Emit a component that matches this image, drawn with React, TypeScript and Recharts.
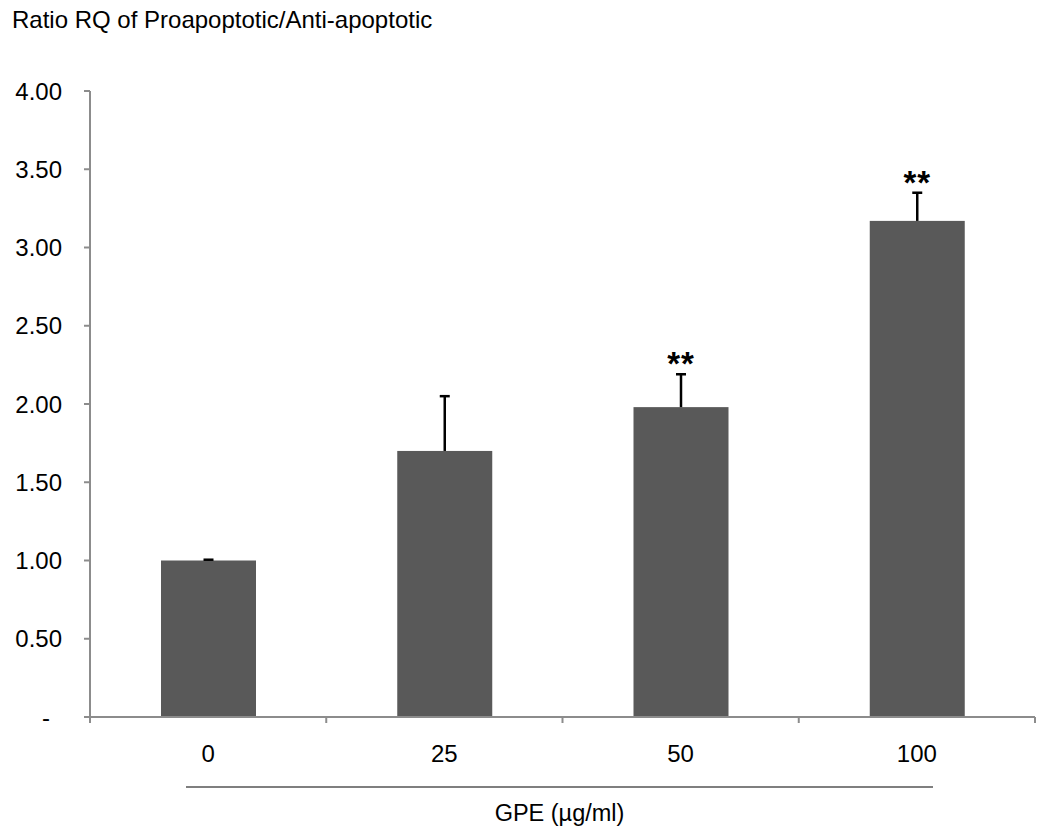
import { Bar, BarChart, XAxis, YAxis } from 'recharts'

const categories = ['0', '25', '50', '100']
const ratioValues = [1.0, 1.7, 1.98, 3.17]
const sdValues = [0.005, 0.35, 0.21, 0.18]
const significance = ['', '', '**', '**']
const yTicks = [0, 0.5, 1, 1.5, 2, 2.5, 3, 3.5, 4]

const W = 1037
const H = 829
const PLOT_LEFT = 90
const PLOT_RIGHT = 1035
const PLOT_TOP = 91
const AXIS_Y = 717
const FONT = '"Liberation Sans", Arial, sans-serif'
const AXIS_GREY = '#8c8c8c'

const data = categories.map((c, i) => ({
  dose: c,
  ratio: ratioValues[i],
  sd: sdValues[i],
  sig: significance[i],
}))

const band = (PLOT_RIGHT - PLOT_LEFT) / categories.length

// bar + upward error whisker + significance stars, sized off the bar's own scale
function BarWithError(props: any) {
  const { x, y, width, height, payload, fill } = props
  const pxPerUnit = height / payload.ratio
  const top = y - payload.sd * pxPerUnit
  const cx = x + width / 2
  return (
    <g>
      <rect x={x} y={y} width={width} height={height} fill={fill} />
      <line x1={cx} x2={cx} y1={y} y2={top} stroke="#000" strokeWidth={2.5} />
      <line x1={cx - 5} x2={cx + 5} y1={top} y2={top} stroke="#000" strokeWidth={2.5} />
      {payload.sig ? (
        <text x={cx} y={top + 1} textAnchor="middle" fontSize={33} fontWeight="bold" letterSpacing={1} fontFamily={FONT} fill="#000">
          {payload.sig}
        </text>
      ) : null}
    </g>
  )
}

function YTick({ y, payload }: any) {
  const v = payload.value as number
  if (v === 0) {
    return (
      <text x={46} y={y} textAnchor="middle" dominantBaseline="central" fontSize={24} fontFamily={FONT} fill="#000">
        -
      </text>
    )
  }
  return (
    <text x={62} y={y} textAnchor="end" dominantBaseline="central" fontSize={24} fontFamily={FONT} fill="#000">
      {v.toFixed(2)}
    </text>
  )
}

// category labels with tick marks on the category boundaries
function XTick({ x, payload, index }: any) {
  const left = x - band / 2
  const last = index === categories.length - 1
  return (
    <g>
      <line x1={left} x2={left} y1={AXIS_Y} y2={AXIS_Y + 6} stroke={AXIS_GREY} strokeWidth={2} />
      {last ? <line x1={x + band / 2} x2={x + band / 2} y1={AXIS_Y} y2={AXIS_Y + 6} stroke={AXIS_GREY} strokeWidth={2} /> : null}
      <text x={x} y={AXIS_Y + 36} textAnchor="middle" dominantBaseline="central" fontSize={24} fontFamily={FONT} fill="#000">
        {payload.value}
      </text>
    </g>
  )
}

function DoseTitle({ viewBox }: any) {
  const x0 = viewBox.x + 96
  const x1 = viewBox.x + 843
  return (
    <g>
      <line x1={x0} x2={x1} y1={AXIS_Y + 70} y2={AXIS_Y + 70} stroke="#555" strokeWidth={1.5} />
      <text x={(x0 + x1) / 2} y={AXIS_Y + 96} textAnchor="middle" dominantBaseline="central" fontSize={23.5} fontFamily={FONT} fill="#000">
        GPE (µg/ml)
      </text>
    </g>
  )
}

export default function App() {
  return (
    <div style={{ position: 'absolute', left: 0, top: 0, width: W, height: H, background: '#fff' }}>
      <div
        style={{
          position: 'absolute',
          left: 12,
          top: 8,
          fontFamily: FONT,
          fontSize: 24,
          lineHeight: '23px',
          color: '#000',
          whiteSpace: 'nowrap',
        }}
      >
        Ratio RQ of Proapoptotic/Anti-apoptotic
      </div>
      <BarChart
        width={W}
        height={H}
        data={data}
        margin={{ top: PLOT_TOP, right: W - PLOT_RIGHT, bottom: 0, left: 0 }}
      >
        <XAxis
          dataKey="dose"
          height={H - AXIS_Y}
          axisLine={{ stroke: AXIS_GREY, strokeWidth: 2 }}
          tickLine={false}
          tick={<XTick />}
          interval={0}
          label={{ content: <DoseTitle /> }}
        />
        <YAxis
          width={PLOT_LEFT}
          domain={[0, 4]}
          ticks={yTicks}
          interval={0}
          axisLine={{ stroke: AXIS_GREY, strokeWidth: 2 }}
          tickLine={{ stroke: AXIS_GREY, strokeWidth: 2 }}
          tickSize={6}
          tick={<YTick />}
        />
        <Bar dataKey="ratio" fill="#595959" barSize={95} shape={<BarWithError />} isAnimationActive={false} />
      </BarChart>
    </div>
  )
}
